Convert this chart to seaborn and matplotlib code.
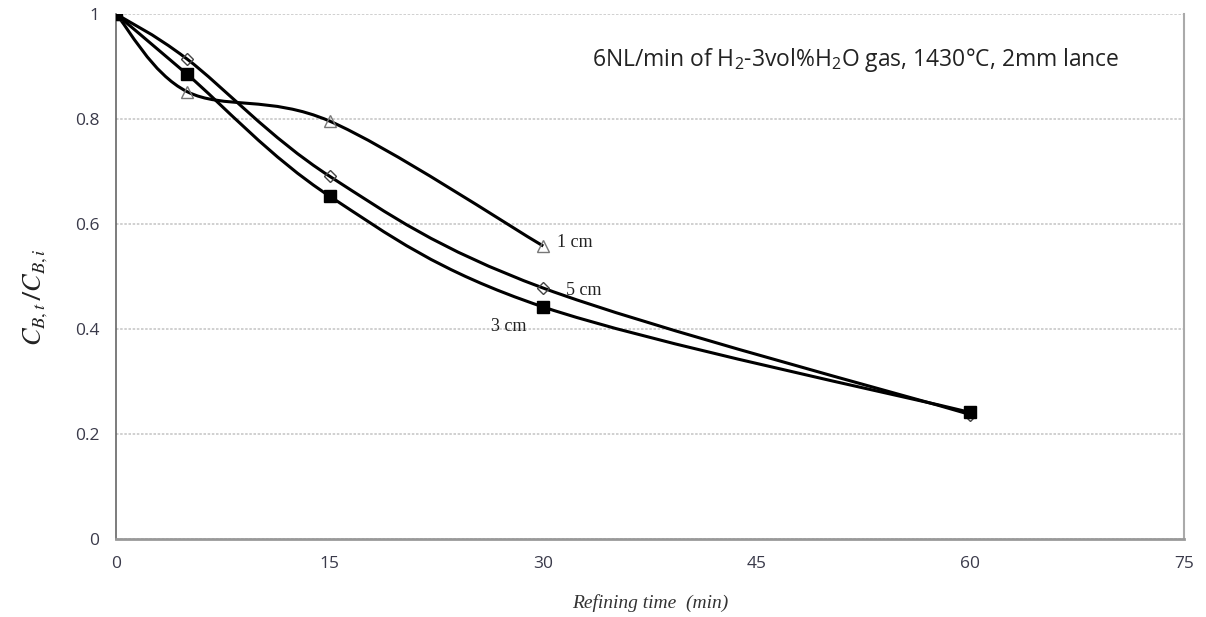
import numpy as np
import pandas as pd
import matplotlib
matplotlib.use("Agg")
import matplotlib.pyplot as plt
from matplotlib.path import Path
from matplotlib.patches import PathPatch
import seaborn as sns

# data
time_1cm = [0, 5, 15, 30]
ratio_1cm = [1.0, 0.852, 0.796, 0.558]
time_5cm = [0, 5, 15, 30, 60]
ratio_5cm = [1.0, 0.914, 0.691, 0.478, 0.237]
time_3cm = [0, 5, 15, 30, 60]
ratio_3cm = [1.0, 0.885, 0.653, 0.442, 0.241]

x_ticks = [0, 15, 30, 45, 60, 75]
y_ticks = [0, 0.2, 0.4, 0.6, 0.8, 1.0]


def smooth_path(xs, ys):
    """Excel-like smoothed line: cubic Bezier segments (Catmull-Rom control points)."""
    pts = np.column_stack([xs, ys]).astype(float)
    n = len(pts)
    verts = [pts[0]]
    codes = [Path.MOVETO]
    for i in range(n - 1):
        p_prev = pts[i - 1] if i > 0 else pts[i]
        p_next2 = pts[i + 2] if i + 2 < n else pts[i + 1]
        c1 = pts[i] + (pts[i + 1] - p_prev) / 6.0
        c2 = pts[i + 1] - (p_next2 - pts[i]) / 6.0
        verts += [c1, c2, pts[i + 1]]
        codes += [Path.CURVE4] * 3
    return Path(verts, codes)


sns.set_theme(style="white")
plt.rcParams["font.family"] = ["Open Sans", "DejaVu Sans"]
plt.rcParams["mathtext.default"] = "regular"

fig = plt.figure(figsize=(12.06, 6.17), dpi=100)
ax = fig.add_axes([0.0962, 0.1264, 0.8856, 0.8509])

series = [
    (time_1cm, ratio_1cm, "^", "none", "#777777", 8.5),
    (time_5cm, ratio_5cm, "D", "none", "#444444", 6),
    (time_3cm, ratio_3cm, "s", "black", "black", 8.5),
]
for xs, ys, mk, fc, ec, ms in series:
    ax.add_patch(PathPatch(smooth_path(xs, ys), facecolor="none",
                           edgecolor="black", lw=2.2, zorder=3))
    df = pd.DataFrame({"t": xs, "r": ys})
    sns.lineplot(data=df, x="t", y="r", ax=ax, linestyle="", marker=mk,
                 markersize=ms, markerfacecolor=fc, markeredgecolor=ec,
                 markeredgewidth=1.0, zorder=4)

ax.set_xlim(0, 75)
ax.set_ylim(0, 1.0)
ax.set_xticks(x_ticks)
ax.set_yticks(y_ticks)
ax.set_xticklabels([str(v) for v in x_ticks])
ax.set_yticklabels(["0", "0.2", "0.4", "0.6", "0.8", "1"])
ax.tick_params(axis="both", labelsize=12.5, colors="#3a3a4a", length=6,
               width=1, direction="out", pad=6)
ax.tick_params(axis="x", color="#999999")
ax.tick_params(axis="y", color="#bbbbbb")
ax.yaxis.grid(True, color="#c8c8c8", linestyle=(0, (1.5, 1)), lw=1.2)
ax.xaxis.grid(False)

ax.spines["top"].set_visible(False)
ax.spines["left"].set_color("#666666")
ax.spines["left"].set_linewidth(1.2)
ax.spines["bottom"].set_color("#999999")
ax.spines["bottom"].set_linewidth(2)
ax.spines["right"].set_color("#aaaaaa")
ax.spines["right"].set_linewidth(1.5)

ax.set_xlabel("Refining time  (min)", family="Liberation Serif",
              style="italic", fontsize=14, color="#333333", labelpad=16)
ax.set_ylabel(r"$\mathit{C}_{\mathit{B,t}}\,/\mathit{C}_{\mathit{B,i}}$",
              fontsize=19, color="#222222", math_fontfamily="stix")
ax.yaxis.set_label_coords(-0.062, 0.46)

ax.text(31.0, 0.564, "1 cm", family="Liberation Serif", fontsize=13,
        va="center", ha="left", color="#222222")
ax.text(31.6, 0.474, "5 cm", family="Liberation Serif", fontsize=13,
        va="center", ha="left", color="#222222")
ax.text(28.8, 0.404, "3 cm", family="Liberation Serif", fontsize=13,
        va="center", ha="right", color="#222222")

ax.text(0.940, 0.912, "6NL/min of H$_2$-3vol%H$_2$O gas, 1430°C, 2mm lance",
        transform=ax.transAxes, ha="right", va="center", fontsize=16.5,
        color="#222222")

fig.savefig("out.png", dpi=100)
